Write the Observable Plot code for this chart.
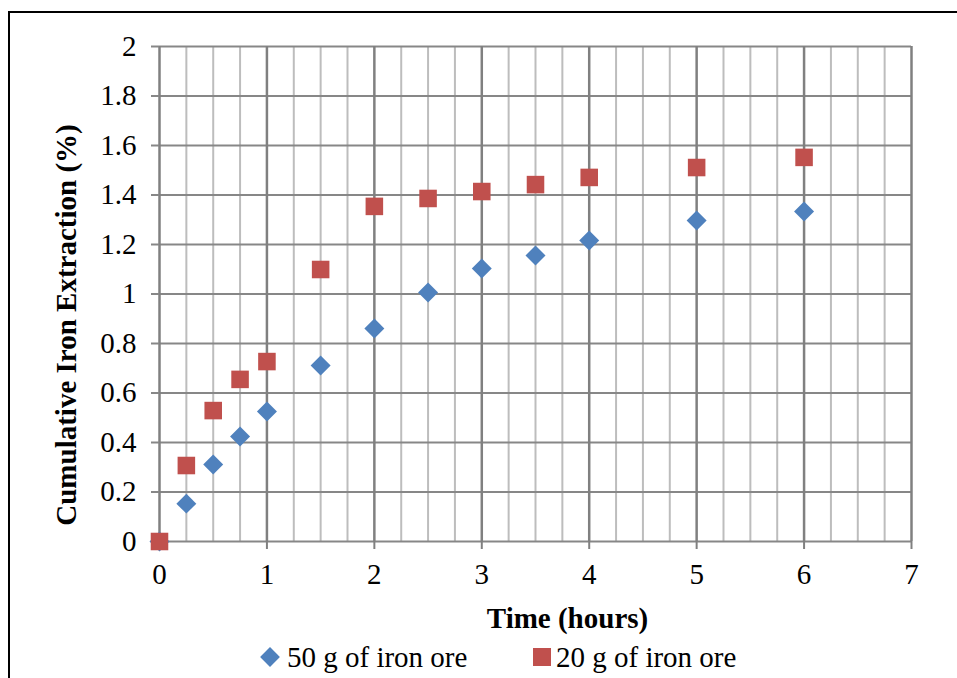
<!DOCTYPE html>
<html><head><meta charset="utf-8">
<script src="https://cdn.jsdelivr.net/npm/d3@7"></script>
<script src="https://cdn.jsdelivr.net/npm/@observablehq/plot@0.6"></script>
<style>
body{margin:0;background:#fff;font-family:"Liberation Serif","Times New Roman",serif;}
#wrap{position:relative;width:957px;height:678px;overflow:hidden;}
#frame{position:absolute;left:8px;top:11px;width:980px;height:720px;border-top:2px solid #000;border-left:2px solid #000;pointer-events:none;}
#chart{position:absolute;left:0;top:0;}
#legend{position:absolute;left:0;top:640px;width:957px;height:38px;font-size:29px;color:#000;}
.item{position:absolute;top:0;height:38px;line-height:34px;white-space:nowrap;}
.sym{position:absolute;}
</style></head><body>
<div id="wrap"><div id="chart"></div><div id="legend"></div><div id="frame"></div></div>
<script>
const timeHours = [0, 0.25, 0.5, 0.75, 1, 1.5, 2, 2.5, 3, 3.5, 4, 5, 6];
const ext50g = [0, 0.153, 0.311, 0.424, 0.525, 0.711, 0.861, 1.006, 1.103, 1.156, 1.216, 1.297, 1.333];
const ext20g = [0, 0.307, 0.529, 0.655, 0.727, 1.099, 1.354, 1.386, 1.414, 1.442, 1.471, 1.511, 1.552];
const seriesNames = ["50 g of iron ore", "20 g of iron ore"];
const seriesColors = ["#4F81BD", "#C0504D"];
const xTicks = [0, 1, 2, 3, 4, 5, 6, 7];
const yTicks = [0, 0.2, 0.4, 0.6, 0.8, 1, 1.2, 1.4, 1.6, 1.8, 2];
const xTitle = "Time (hours)";
const yTitle = "Cumulative Iron Extraction (%)";

const data50 = timeHours.map((t, i) => ({t, v: ext50g[i]}));
const data20 = timeHours.map((t, i) => ({t, v: ext20g[i]}));
const minorX = d3.range(0, 7.001, 0.25).filter(v => v % 1 !== 0);

const chart = Plot.plot({
  width: 957, height: 640,
  marginLeft: 159, marginRight: 46, marginTop: 46, marginBottom: 99,
  style: {fontFamily: "'Liberation Serif', 'Times New Roman', serif", fontSize: "29px", color: "#000", background: "transparent", overflow: "visible"},
  x: {domain: [0, 7]},
  y: {domain: [0, 2]},
  marks: [
    Plot.ruleX(minorX, {stroke: "#bdbdbd", strokeWidth: 2}),
    Plot.ruleY(yTicks, {stroke: "#878787", strokeWidth: 2}),
    Plot.ruleX(xTicks, {stroke: "#808080", strokeWidth: 2.5}),
    Plot.axisY({ticks: yTicks, tickSize: 8, tickPadding: 15, stroke: "#878787", strokeWidth: 2, label: null, fontSize: 29, tickFormat: d => String(+d.toFixed(1))}),
    Plot.axisX({ticks: xTicks, tickSize: 8, tickPadding: 14, stroke: "#808080", strokeWidth: 2, label: null, fontSize: 29, tickFormat: d => String(d)}),
    Plot.dot(data50, {x: "t", y: "v", symbol: "diamond2", r: 9, fill: seriesColors[0], stroke: null}),
    Plot.dot(data20, {x: "t", y: "v", symbol: "square", r: 9.9, fill: seriesColors[1], stroke: null}),
    Plot.text([xTitle], {frameAnchor: "bottom", text: d => d, lineAnchor: "middle", textAnchor: "middle", dx: 32, dy: 77, fontWeight: "bold", fontSize: 29}),
    Plot.text([yTitle], {frameAnchor: "left", text: d => d, lineAnchor: "middle", textAnchor: "middle", rotate: -90, dx: -93, dy: 31, fontWeight: "bold", fontSize: 29})
  ]
});
document.getElementById("chart").appendChild(chart);

const legend = document.getElementById("legend");
const legendPos = [{sym: 270, text: 287, shape: "diamond"}, {sym: 542, text: 556, shape: "square"}];
seriesNames.forEach((name, i) => {
  const p = legendPos[i];
  const s = document.createElement("div");
  s.className = "sym";
  if (p.shape === "diamond") {
    s.style.cssText = `left:${p.sym - 7}px;top:${17 - 7}px;width:14px;height:14px;background:${seriesColors[i]};transform:rotate(45deg);`;
  } else {
    s.style.cssText = `left:${p.sym - 9}px;top:${17 - 9}px;width:18px;height:18px;background:${seriesColors[i]};`;
  }
  legend.appendChild(s);
  const t = document.createElement("div");
  t.className = "item";
  t.style.left = p.text + "px";
  t.textContent = name;
  legend.appendChild(t);
});
</script>
</body></html>
